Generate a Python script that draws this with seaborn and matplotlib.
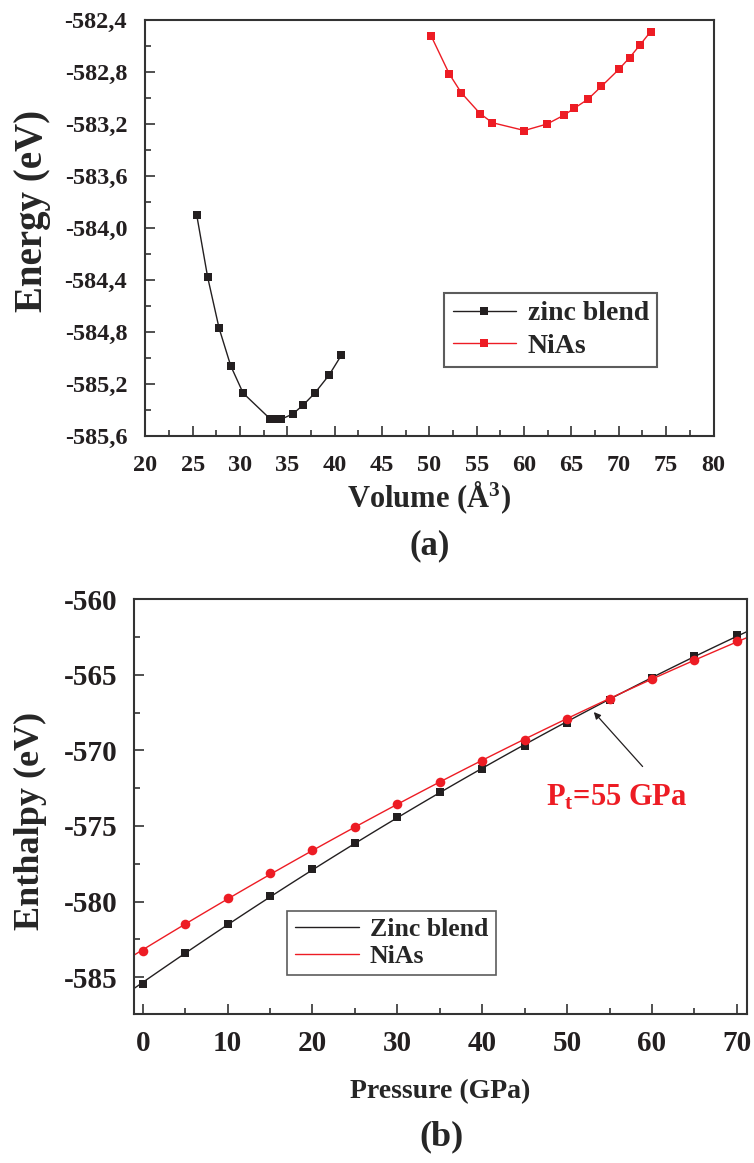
import numpy as np
import seaborn as sns
import matplotlib
matplotlib.use('Agg')
import matplotlib.pyplot as plt
from matplotlib.ticker import MultipleLocator, FuncFormatter

# (a) energy vs volume
vol_zb = [25.43, 26.59, 27.79, 29.02, 30.33, 33.21, 33.95, 34.38, 35.58, 36.70, 37.90, 39.42, 40.69]
e_zb = [-583.90, -584.38, -584.77, -585.06, -585.27, -585.47, -585.47, -585.47, -585.43, -585.36, -585.27, -585.13, -584.98]

vol_nias = [50.2, 52.1, 53.37, 55.35, 56.65, 60.03, 62.43, 64.26, 65.28, 66.73, 68.17, 70.00, 71.13, 72.26, 73.35]
e_nias = [-582.525, -582.815, -582.96, -583.12, -583.19, -583.25, -583.20, -583.13, -583.08, -583.01, -582.91, -582.78, -582.69, -582.59, -582.49]

# (b) enthalpy vs pressure
pressure = [0, 5, 10, 15, 20, 25, 30, 35, 40, 45, 50, 55, 60, 65, 70]
h_zb = [-585.44, -583.43, -581.49, -579.62, -577.85, -576.10, -574.42, -572.77, -571.22, -569.70, -568.17, -566.67, -565.24, -563.78, -562.37]
h_nias = [-583.27, -581.50, -579.77, -578.14, -576.59, -575.04, -573.56, -572.08, -570.69, -569.30, -567.95, -566.63, -565.30, -564.02, -562.78]

red = '#ED1C24'
frame = '#333333'

sns.set_style('ticks')
plt.rcParams['font.family'] = ['Liberation Serif', 'DejaVu Serif']
plt.rcParams['font.weight'] = 'bold'
plt.rcParams['axes.labelweight'] = 'bold'
plt.rcParams['axes.unicode_minus'] = False
plt.rcParams['mathtext.fontset'] = 'custom'
plt.rcParams['mathtext.rm'] = 'Liberation Serif:bold'
plt.rcParams['mathtext.it'] = 'Liberation Serif:bold'
plt.rcParams['mathtext.default'] = 'rm'

fig = plt.figure(figsize=(7.54, 11.63), dpi=100)
ax1 = fig.add_axes([0.1927, 0.6251, 0.7536, 0.3577])
ax2 = fig.add_axes([0.1781, 0.1285, 0.8126, 0.3564])


def style_axes(ax, tick_size):
    for s in ax.spines.values():
        s.set_color(frame)
        s.set_linewidth(1.5)
    ax.tick_params(which='both', direction='in', top=False, right=False,
                   colors=frame, labelcolor='#231F20', labelsize=tick_size, width=1.2)
    ax.tick_params(which='major', length=7, pad=8)
    ax.tick_params(which='minor', length=4)


# ---- panel (a)
sns.lineplot(x=vol_zb, y=e_zb, ax=ax1, sort=False, color='#231F20', linewidth=1,
             marker='s', markersize=6, markeredgewidth=0, label='zinc blend')
sns.lineplot(x=vol_nias, y=e_nias, ax=ax1, sort=False, color=red, linewidth=1,
             marker='s', markersize=6, markeredgewidth=0, label='NiAs')
ax1.set_xlim(20, 80)
ax1.set_ylim(-585.6, -582.4)
ax1.xaxis.set_major_locator(MultipleLocator(5))
ax1.xaxis.set_minor_locator(MultipleLocator(2.5))
ax1.yaxis.set_major_locator(MultipleLocator(0.4))
ax1.yaxis.set_minor_locator(MultipleLocator(0.2))
ax1.yaxis.set_major_formatter(FuncFormatter(lambda v, p: f'{v:.1f}'.replace('.', ',')))
style_axes(ax1, 17.5)
ax1.tick_params(axis='y', which='major', pad=13)
ax1.tick_params(axis='x', which='major', pad=14)
ax1.set_xlabel('Volume (Å$^{3}$)', fontsize=22, labelpad=2)
ax1.set_ylabel('Energy (eV)', fontsize=28)
ax1.yaxis.set_label_coords(-0.166, 0.541)
leg1 = ax1.legend(loc='upper left', bbox_to_anchor=(0.526, 0.3445), borderaxespad=0,
                  fontsize=20, frameon=True, fancybox=False, edgecolor=frame,
                  handlelength=2.3, handletextpad=0.4, labelspacing=0.25, borderpad=0.3)
leg1.get_frame().set_linewidth(1.5)
fig.text(0.570, 1 - 546 / 1163, '(a)', ha='center', va='center', fontsize=25, fontweight='bold')

# ---- panel (b)
ax2.set_xlim(-1, 71.2)
ax2.set_ylim(-587.4, -560)
sns.regplot(x=np.array(pressure), y=np.array(h_zb), ax=ax2, order=2, ci=None, truncate=False,
            scatter=False, color='#231F20', line_kws={'linewidth': 1}, label='Zinc blend')
sns.scatterplot(x=pressure, y=h_zb, ax=ax2, marker='s', s=36, color='#231F20',
                linewidth=0, legend=False, zorder=3)
sns.regplot(x=np.array(pressure), y=np.array(h_nias), ax=ax2, order=2, ci=None, truncate=False,
            scatter=False, color=red, line_kws={'linewidth': 1}, label='NiAs')
sns.scatterplot(x=pressure, y=h_nias, ax=ax2, marker='o', s=48, color=red,
                linewidth=0, legend=False, zorder=4)
ax2.set_xlim(-1, 71.2)
ax2.set_ylim(-587.4, -560)
ax2.xaxis.set_major_locator(MultipleLocator(10))
ax2.xaxis.set_minor_locator(MultipleLocator(5))
ax2.yaxis.set_major_locator(MultipleLocator(5))
ax2.yaxis.set_minor_locator(MultipleLocator(2.5))
style_axes(ax2, 21)
ax2.tick_params(which='major', pad=12)
ax2.set_xlabel('Pressure (GPa)', fontsize=20, labelpad=16)
ax2.set_ylabel('Enthalpy (eV)', fontsize=26)
ax2.yaxis.set_label_coords(-0.142, 0.464)
leg2 = ax2.legend(loc='upper left', bbox_to_anchor=(0.2497, 0.248), borderaxespad=0,
                  fontsize=18.5, frameon=True, fancybox=False, edgecolor=frame,
                  handlelength=2.5, handletextpad=0.4, labelspacing=0.12, borderpad=0.3)
leg2.get_frame().set_linewidth(1.2)

ax2.annotate('', xy=(53.15, -567.47), xytext=(58.9, -571.07),
             arrowprops=dict(arrowstyle='-|>', color='#231F20', lw=0.9,
                             mutation_scale=10, shrinkA=0, shrinkB=0))
ax2.text(47.5, -573.13, 'P$_{t}$=55 GPa', color=red, fontsize=22, fontweight='bold',
         ha='left', va='center')
fig.text(0.586, 1 - 1137 / 1163, '(b)', ha='center', va='center', fontsize=26, fontweight='bold')

fig.savefig('out.png', dpi=100)
